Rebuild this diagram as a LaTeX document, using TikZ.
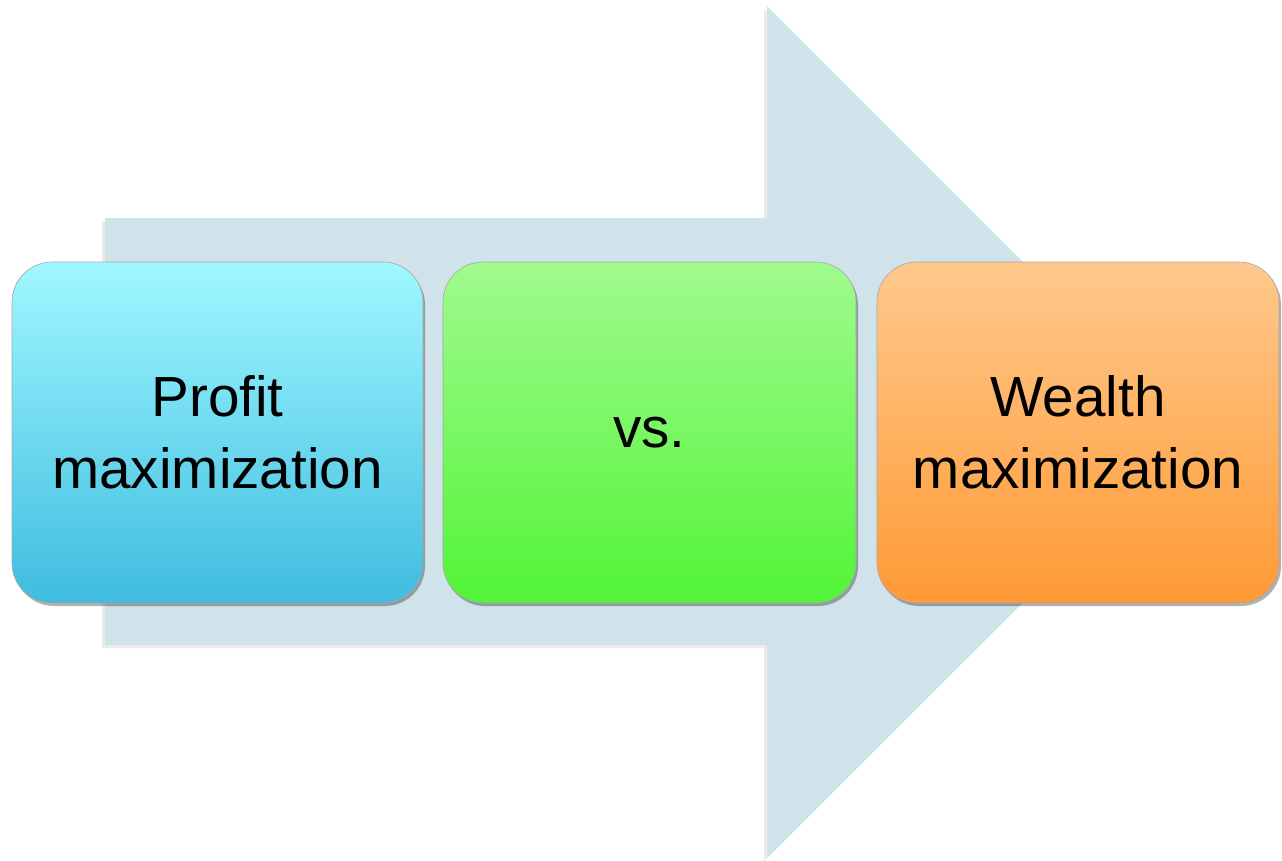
\documentclass[tikz,border=0pt]{standalone}
\usepackage{fontspec}
\setmainfont{Liberation Sans}
\usetikzlibrary{shadows}
\definecolor{arrowblue}{HTML}{D0E2EA}
\definecolor{cyantop}{HTML}{A0F8FF}
\definecolor{cyanbot}{HTML}{3FBCE0}
\definecolor{greentop}{HTML}{A0FB8D}
\definecolor{greenbot}{HTML}{52F438}
\definecolor{orangetop}{HTML}{FFC98D}
\definecolor{orangebot}{HTML}{FF9A35}
\tikzset{
  stagebox/.style={rounded corners=40pt, minimum width=#1, minimum height=341pt,
    inner sep=0pt, align=center, draw=black!35, line width=0.6pt,
    font=\fontsize{56.6}{72}\selectfont,
    drop shadow={shadow xshift=2pt, shadow yshift=-3pt, opacity=0.3, fill=black}},
}
\begin{document}
\begin{tikzpicture}[x=1pt, y=-1pt]
  \useasboundingbox (0,0) rectangle (1282,860);
  % big arrow behind the boxes
  \fill[black, opacity=0.08] (102,221) -- (764,221) -- (764,9) -- (1190,436)
    -- (764,861) -- (764,648) -- (102,648) -- cycle;
  \fill[arrowblue] (105,218) -- (767,218) -- (767,6) -- (1193,432)
    -- (767,858) -- (767,645) -- (105,645) -- cycle;
  % the three stages
  \node[stagebox=411pt, top color=cyantop, bottom color=cyanbot]
    (profit) at (217.5,432.5) {Profit\\maximization};
  \node[stagebox=413pt, top color=greentop, bottom color=greenbot]
    (vs) at (649.5,432.5) {vs.};
  \node[stagebox=402pt, top color=orangetop, bottom color=orangebot]
    (wealth) at (1078,432.5) {Wealth\\maximization};
\end{tikzpicture}
\end{document}
